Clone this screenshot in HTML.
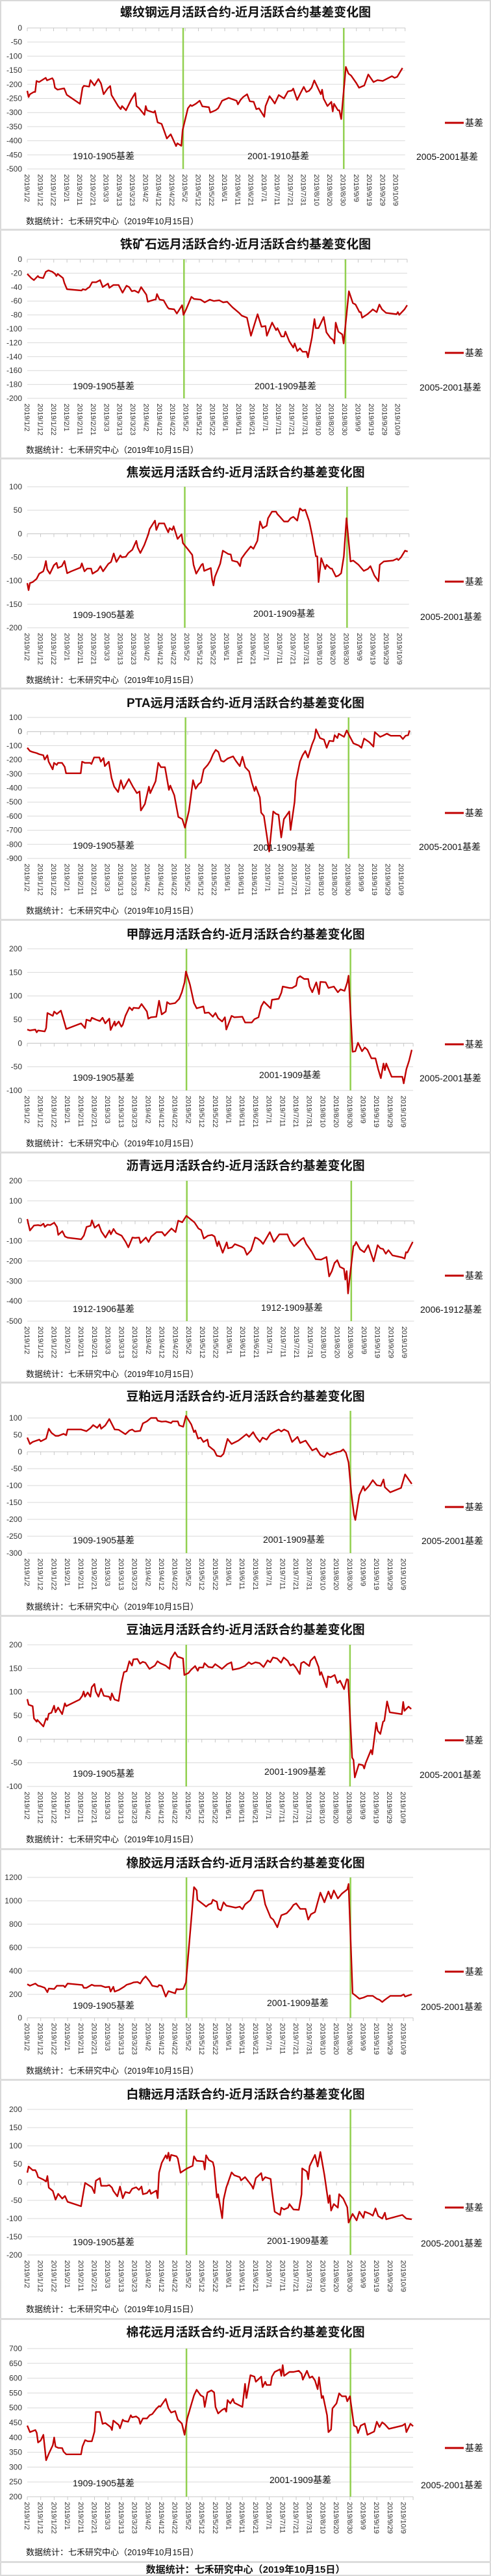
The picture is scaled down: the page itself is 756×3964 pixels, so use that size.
<!DOCTYPE html>
<html><head><meta charset="utf-8"><style>
html,body{margin:0;padding:0;background:#fff;}
svg{display:block;}
text{font-family:"Liberation Sans","Noto Sans CJK SC",sans-serif;}
</style></head>
<body>
<svg id="root" xmlns="http://www.w3.org/2000/svg" width="756" height="3964" viewBox="0 0 756 3964"></svg>
<script>
// ---- data (day offset from 2019/1/2, basis value) ----
const dateLabels = ["2019/1/2","2019/1/12","2019/1/22","2019/2/1","2019/2/11","2019/2/21","2019/3/3","2019/3/13","2019/3/23","2019/4/2","2019/4/12","2019/4/22","2019/5/2","2019/5/12","2019/5/22","2019/6/1","2019/6/11","2019/6/21","2019/7/1","2019/7/11","2019/7/21","2019/7/31","2019/8/10","2019/8/20","2019/8/30","2019/9/9","2019/9/19","2019/9/29","2019/10/9"];
const rollDays = [118.4, 240.4];

const rebarDays = [0,1,2,5,6,7,9,14,15,19,20,21,23,27,28,30,40,42,43,47,48,51,54,56,58,61,63,64,68,69,71,72,75,79,82,83,85,89,90,91,96,97,99,102,104,106,109,113,114,117,118,122,124,125,128,131,133,138,139,143,145,148,153,159,160,162,164,167,169,172,174,176,180,181,184,186,188,191,195,198,201,202,205,208,210,212,214,216,218,223,224,225,228,231,232,233,236,237,238.5,242,244,246,250,252,256,259,263,266,270,277,279,281,285];
const rebarVals = [-223,-245,-235,-227,-227,-188,-192,-177,-186,-178,-186,-212,-219,-215,-214,-237,-269,-212,-205,-208,-185,-204,-181,-197,-235,-215,-206,-238,-269,-277,-288,-277,-292,-254,-231,-277,-285,-308,-277,-292,-300,-294,-335,-340,-365,-392,-377,-419,-409,-418,-362,-285,-273,-277,-269,-258,-278,-281,-300,-292,-285,-258,-248,-258,-271,-255,-245,-235,-260,-262,-288,-285,-315,-277,-242,-254,-268,-238,-250,-225,-222,-215,-255,-227,-209,-227,-223,-212,-186,-235,-219,-250,-277,-262,-296,-269,-292,-292,-323,-138,-162,-169,-196,-212,-204,-165,-192,-185,-188,-171,-177,-173,-142];

const ironDays = [0,3,5,8,9,12,14,16,19,21,22,23,27,28,30,41,42,44,46,47,49,52,55,57,61,62,65,69,72,75,77,79,81,84,86,90,91,96,97,98,100,103,106,107,111,113,117,118,120,124,126,131,134,138,141,145,148,151,155,160,162,166,169,174,177,180,181,185,188,189,192,194,195,198,201,202,204,206,208,211,212,215,217,218,220,224,226,229,231,232,233,235,238,239,243,246,248,251,252,253,257,260,261,264,266,268,271,279,280,281,285,287];
const ironVals = [-21,-27,-30,-24,-26,-27,-18,-16,-18,-21,-24,-21,-27,-34,-43,-45,-43,-44,-41,-40,-33,-33,-30,-40,-35,-41,-37,-37,-48,-38,-40,-46,-45,-48,-40,-51,-61,-58,-58,-50,-58,-59,-69,-71,-72,-78,-66,-80,-72,-54,-57,-58,-62,-58,-60,-59,-62,-61,-69,-77,-81,-84,-110,-79,-97,-96,-110,-91,-102,-99,-111,-111,-104,-118,-127,-121,-132,-128,-133,-133,-141,-113,-86,-99,-99,-83,-105,-113,-116,-121,-91,-104,-108,-121,-46,-63,-65,-76,-76,-84,-79,-74,-72,-76,-65,-72,-77,-79,-76,-80,-72,-66];

const cokeDays = [0,1,2,4,7,9,12,13,14,15,17,20,22,23,26,28,30,33,40,41,43,45,48,49,53,55,57,61,63,65,67,70,71,74,76,79,82,83,85,88,91,92,96,97,99,103,104,106,107,109,110,113,116,117,121,124,125,127,131,132,133,138,139,140,141,145,147,151,153,154,158,160,161,164,168,170,173,175,177,180,181,184,187,188,190,193,196,198,200,203,205,207,209,212,214,217,218,219,221,224,225,228,229,232,234,236,238,240,243,245,249,253,256,258,261,264,265,268,275,278,279,281,284,286];
const cokeVals = [-105,-120,-105,-103,-96,-85,-80,-71,-58,-76,-85,-67,-62,-73,-69,-58,-84,-80,-72,-63,-80,-74,-74,-85,-78,-69,-80,-64,-60,-42,-60,-46,-50,-49,-41,-34,-15,-29,-41,-24,-1,10,28,8,22,22,15,3,12,8,16,-11,-1,-20,-34,-45,-66,-85,-66,-64,-79,-73,-98,-110,-92,-64,-36,-43,-44,-57,-60,-69,-53,-41,-27,-32,-15,26,12,17,33,47,47,42,36,26,26,33,36,28,54,49,51,26,-1,-48,-48,-103,-52,-75,-66,-74,-74,-91,-89,-84,-48,33,-59,-57,-66,-79,-75,-69,-89,-101,-66,-59,-57,-53,-56,-50,-36,-38];

const ptaDays = [0,2,4,7,9,12,13,15,16,19,20,22,23,26,28,29,40,41,43,47,48,50,54,55,57,58,61,63,65,68,70,72,76,79,82,84,85,88,91,92,96,98,100,103,106,107,110,113,116,118,121,124,126,128,130,132,135,137,139,141,143,145,147,150,154,156,159,161,163,166,168,170,171,174,175,177,181,184,186,188,190,192,196,197,200,201,204,206,208,210,213,215,216,219,222,224,226,229,230,232,233,237,239,241,244,248,250,252,256,259,260,264,266,269,272,279,281,283,285,286];
const ptaVals = [-115,-138,-145,-153,-161,-168,-199,-168,-214,-268,-222,-237,-222,-222,-250,-296,-296,-214,-222,-222,-230,-184,-184,-214,-188,-245,-214,-329,-391,-429,-345,-406,-337,-391,-437,-425,-560,-514,-391,-437,-352,-222,-253,-253,-414,-383,-452,-606,-621,-682,-560,-345,-406,-375,-360,-268,-237,-207,-161,-130,-145,-207,-214,-191,-176,-207,-245,-179,-253,-283,-360,-421,-391,-468,-575,-598,-851,-567,-583,-590,-751,-621,-567,-698,-498,-352,-214,-168,-138,-184,-92,-46,16,-46,-57,-115,-66,-69,-26,-46,-15,-38,8,-30,-84,-99,-115,-50,-76,-107,-4,-38,-30,-15,-30,-30,-53,-30,-26,8];

const methDays = [0,2,6,7,8,13,14,15,19,20,22,25,27,29,40,43,44,47,48,51,54,56,58,61,62,65,65.5,68,70,71,73,76,78,79,83,85,89,90,92,96,98,100,103,104,106,110,113,115,117,118,121,124,126,131,132,135,138,140,142,145,147,148,152,154,160,162,167,169,172,174,176,181,182,187,189,190,195,197,200,201,203,206,209,210,212,215,217,218,222,224,228,231,233,236,238,239,242,244,246,249,251,253,256,259,261,263,265,266,267,271,279,280,282,284,286];
const methVals = [29,27,29,23,27,25,32,64,58,67,62,69,50,30,42,32,50,47,54,50,47,54,42,52,28,46,37,46,35,39,58,76,70,75,74,83,67,52,55,56,90,61,67,87,83,85,94,108,129,152,124,85,74,78,64,65,56,64,53,46,55,29,58,55,56,44,44,51,55,78,88,74,92,94,107,120,117,117,122,138,142,136,136,120,108,129,104,130,129,117,120,108,114,111,129,143,-18,-17,1,-17,-9,-14,-32,-32,-55,-74,-43,-57,-43,-71,-71,-85,-55,-37,-14];

const asphDays = [0,2,5,8,10,12,13,15,17,20,22,23,26,28,30,40,42,44,47,48,50,53,55,58,61,62,64,66,70,73,75,78,80,83,84,88,90,92,96,100,102,107,110,112,115,118,121,124,127,129,131,134,137,139,141,142,145,148,149,152,154,159,161,163,166,169,171,173,175,180,183,187,193,195,198,203,205,207,211,214,218,222,224,226,228,230,232,235,236,237,238,239,242,243,244,247,250,253,257,260,262,264,266,268,271,278,280,281,282,286];
const asphVals = [9,-48,-23,-21,-24,-14,-30,-19,-21,-9,-30,-70,-51,-78,-84,-92,-73,-30,-24,3,-34,-18,-53,-83,-48,-67,-40,-61,-74,-105,-132,-83,-85,-83,-110,-83,-105,-78,-56,-56,-74,-38,-56,1,-7,25,9,-7,-38,-46,-88,-74,-70,-78,-126,-102,-159,-107,-137,-132,-116,-129,-137,-169,-147,-83,-88,-99,-115,-56,-105,-67,-67,-99,-126,-94,-85,-115,-153,-191,-193,-180,-277,-250,-210,-196,-229,-239,-293,-250,-362,-299,-126,-121,-105,-142,-156,-121,-202,-121,-137,-140,-164,-146,-172,-182,-188,-156,-158,-105];

const mealDays = [0,2,4,9,10,14,16,18,21,23,27,29,30,40,44,47,49,52,54,55,58,61,65,68,73,76,78,80,84,86,89,92,96,97,100,103,107,108,112,113,116,118,122,124,125,127,129,131,134,135,139,141,144,146,149,152,157,159,163,165,168,170,173,175,178,181,187,189,191,194,197,201,203,207,212,215,218,221,223,225,230,233,235,237,239,241,243,244,247,250,251,254,257,260,263,265,266,270,278,281,286];
const mealVals = [42,23,29,36,31,39,68,56,47,47,53,49,66,66,61,70,79,71,81,68,78,97,66,65,52,63,66,60,62,84,90,100,100,92,89,90,85,90,90,78,74,106,81,58,63,39,42,29,36,17,4,-12,-14,-6,38,23,33,39,52,44,58,44,29,42,36,53,66,60,66,60,29,44,26,33,4,10,-9,-16,-3,-9,-1,1,7,-3,-32,-122,-186,-202,-128,-102,-115,-102,-84,-99,-101,-82,-105,-120,-107,-67,-95];

const oilDays = [0,1,4,5,7,7.5,12,14,15,16,18,20,21,23,26,28,29,39,41,42,43,45,47,48,50,51,53,55,57,61,62,63,65,68,70,72,74,76,78,79,82,84,86,88,91,95,97,99,103,106,107,110,112,116,117,120,122,125,127,128,131,132,135,138,140,145,149,152,153,158,162,165,167,170,173,176,179,181,183,186,189,191,194,196,198,200,203,204,206,210,211,214,217,218,219,223,224,226,229,231,233,236,238,239,242,243,244,247,250,251,252,256,257,260,261,263,265,266,268,270,279,280,281,284,286];
const oilVals = [85,73,70,44,37,41,27,44,41,54,56,71,57,67,53,76,70,84,92,101,90,99,90,110,117,101,90,107,92,90,83,97,84,81,117,142,144,165,156,169,170,160,164,162,149,156,165,161,156,149,170,184,175,171,136,140,147,155,145,152,152,161,153,152,159,149,159,163,147,150,155,163,159,163,161,153,167,163,173,171,162,173,166,156,159,152,138,161,164,155,166,175,153,136,142,110,133,131,136,119,124,106,127,126,-39,-44,-81,-53,-55,-62,-51,-23,-32,35,18,11,37,39,80,57,53,79,60,69,64];

const rubberDays = [0,2,6,8,10,13,15,16,20,22,27,28,30,41,42,44,48,50,55,58,61,62,64,65,68,72,74,77,79,82,84,86,88,91,93,97,98,100,103,105,110,111,113,116,118,124,126,126.5,131,133,135,137,138,141,142,144,146,148,150,155,158,160,162,166,169,171,175,177,181,183,186,189,193,196,198,200,203,207,209,211,214,216,218,221,224,226,228,231,234,238,239,242,244,247,250,253,257,260,262,264,266,270,278,280,281,286];
const rubberVals = [287,274,293,274,269,256,219,250,246,274,274,261,293,280,256,256,283,274,274,261,265,224,265,224,237,265,283,293,302,306,293,330,354,311,274,265,280,274,181,228,209,246,243,246,302,1117,1089,1009,969,950,969,978,1009,991,931,917,987,959,954,941,950,928,969,1006,1080,1089,1089,969,857,839,774,876,894,931,965,978,931,931,839,885,904,987,1070,987,1080,1020,1089,1020,1061,1098,1144,209,191,163,172,187,187,163,154,135,154,187,187,200,181,200];

const sugarDays = [0,1,4,6,7,8,12,14,15,16,19,21,23,26,28,30,40,43,48,50,51,54,55,59,61,63,64,67,69,71,73,76,78,81,83,85,86,89,91,92,96,97,98,100,103,104,105,106,107,111,112,114,116,119,123,124,126,131,132,133,135,138,139,141,142,145,146,148,152,154,158,159,162,167,168,170,174,175,177,181,182,184,188,189,191,194,195,198,202,204,204.5,208,209,210,214,216,218,221,224,225,226,228,231,232,235,238,239,242,245,247,250,251,255,257,259,261,264,266,267,270,279,282,286];
const sugarVals = [26,43,33,33,26,14,7,2,17,-15,-24,-48,-32,-45,-38,-54,-66,-2,-14,-30,4,11,-10,-10,-8,-15,-24,-39,-12,-44,-27,-30,-18,-14,-21,-12,-33,-30,-21,-32,-23,-44,26,53,74,65,81,59,75,71,65,26,31,38,45,71,59,57,35,74,61,55,41,-42,-33,-99,-48,-15,27,19,14,5,14,-10,-18,11,25,5,14,9,-24,-81,-90,-70,-75,-70,-60,-75,-76,-33,38,29,8,44,75,43,83,20,-57,-36,-78,-60,-70,-33,-45,-69,-111,-87,-105,-81,-98,-81,-87,-92,-72,-93,-100,-84,-102,-99,-90,-100,-102];

const cottonDays = [0,2,6,7,8,10,12,14,16,19,20,21,23,26,27,29,40,41,43,45,48,50,51,54,56,58,62,63,64,68,69,71,72,75,77,78,81,83,84,86,89,91,93,96,98,99,103,105,107,110,112,115,117,119,122,124,126,129,131,132,134,137,139,140,142,145,147,148,149,151,153,154,160,162,163,166,169,170,174,175,177,178,181,182,184,188,189,190,191,195,198,202,204,205,208,210,212,214,216,217,219,220,223,224,226,227,230,232,234,237,238,240,243,245,246,248,251,253,258,260,262,264,266,269,279,281,282,285,287];
const cottonVals = [440,418,425,416,383,390,409,323,345,374,400,369,365,364,352,343,343,369,391,387,387,420,486,486,446,449,435,425,457,442,431,460,456,453,475,468,471,464,446,464,464,475,479,497,506,504,530,498,484,489,460,447,409,464,511,542,561,542,537,503,552,559,552,503,481,493,498,487,526,515,530,517,503,581,533,610,605,588,605,570,588,577,577,605,621,630,608,644,608,621,621,625,615,595,625,601,606,592,563,603,533,540,475,418,427,498,515,549,539,539,522,539,440,435,415,440,447,409,420,453,435,451,444,429,440,446,418,446,438];

// ---- layout (pixel geometry, not data) ----
const panels = [
 {title:"螺纹钢远月活跃合约-近月活跃合约基差变化图",days:rebarDays,vals:rebarVals,min:-500,max:0,step:50,top:43,bot:260,k:2.027,ty:18,fy:340,sep:353,ly:189,gt:43,ann:[["1910-1905基差",112,240],["2001-1910基差",381,240],["2005-2001基差",641,241]]},
 {title:"铁矿石远月活跃合约-近月活跃合约基差变化图",days:ironDays,vals:ironVals,min:-200,max:0,step:20,top:399,bot:613,k:2.038,ty:375,fy:692,sep:705,ly:543,gt:399,ann:[["1909-1905基差",112,594],["2001-1909基差",392,594],["2005-2001基差",646,596]]},
 {title:"焦炭远月活跃合约-近月活跃合约基差变化图",days:cokeDays,vals:cokeVals,min:-200,max:100,step:50,top:749,bot:966,k:2.048,ty:726,fy:1046,sep:1059,ly:895,gt:749,ann:[["1909-1905基差",112,946],["2001-1909基差",390,944],["2005-2001基差",647,949]]},
 {title:"PTA远月活跃合约-近月活跃合约基差变化图",days:ptaDays,vals:ptaVals,min:-900,max:100,step:100,top:1104,bot:1321,k:2.058,ty:1081,fy:1401,sep:1415,ly:1251,gt:1104,ann:[["1909-1905基差",112,1301],["2001-1909基差",390,1304],["2005-2001基差",645,1303]]},
 {title:"甲醇远月活跃合约-近月活跃合约基差变化图",days:methDays,vals:methVals,min:-100,max:200,step:50,top:1460,bot:1678,k:2.07,ty:1437,fy:1759,sep:1773,ly:1607,gt:1460,ann:[["1909-1905基差",112,1658],["2001-1909基差",399,1654],["2005-2001基差",646,1659]]},
 {title:"沥青远月活跃合约-近月活跃合约基差变化图",days:asphDays,vals:asphVals,min:-500,max:200,step:100,top:1817,bot:2033,k:2.075,ty:1793,fy:2114,sep:2127,ly:1963,gt:1817,ann:[["1912-1906基差",112,2014],["1912-1909基差",402,2012],["2006-1912基差",647,2015]]},
 {title:"豆粕远月活跃合约-近月活跃合约基差变化图",days:mealDays,vals:mealVals,min:-300,max:100,step:50,top:2182,bot:2390,k:2.07,ty:2148,fy:2472,sep:2486,ly:2319,gt:2171,ann:[["1909-1905基差",112,2370],["2001-1909基差",405,2369],["2005-2001基差",649,2371]]},
 {title:"豆油远月活跃合约-近月活跃合约基差变化图",days:oilDays,vals:oilVals,min:-100,max:200,step:50,top:2531,bot:2749,k:2.067,ty:2507,fy:2830,sep:2845,ly:2678,gt:2531,ann:[["1909-1905基差",112,2729],["2001-1909基差",407,2726],["2005-2001基差",646,2731]]},
 {title:"橡胶远月活跃合约-近月活跃合约基差变化图",days:rubberDays,vals:rubberVals,min:0,max:1200,step:200,top:2889,bot:3105,k:2.07,ty:2866,fy:3186,sep:3200,ly:3034,gt:2889,ann:[["1909-1905基差",112,3086],["2001-1909基差",411,3082],["2005-2001基差",648,3088]]},
 {title:"白糖远月活跃合约-近月活跃合约基差变化图",days:sugarDays,vals:sugarVals,min:-200,max:200,step:50,top:3246,bot:3470,k:2.07,ty:3222,fy:3553,sep:3568,ly:3397,gt:3246,ann:[["1909-1905基差",112,3450],["2001-1909基差",411,3448],["2005-2001基差",648,3452]]},
 {title:"棉花远月活跃合约-近月活跃合约基差变化图",days:cottonDays,vals:cottonVals,min:200,max:700,step:50,top:3614,bot:3842,k:2.07,ty:3588,fy:3927,sep:3942,ly:3767,gt:3614,ann:[["1909-1905基差",112,3821],["2001-1909基差",415,3816],["2005-2001基差",648,3824]]}
];

const NS = "http://www.w3.org/2000/svg";
const root = document.getElementById("root");
function mk(tag, attrs, parent){
  const e = document.createElementNS(NS, tag);
  for (const k in attrs) e.setAttribute(k, attrs[k]);
  (parent||root).appendChild(e);
  return e;
}
const XL = 42;

// outer borders
const bl = mk("rect",{x:1,y:1,width:754,height:3962,fill:"none",stroke:"#d9d9d9","stroke-width":2});



panels.forEach((p, pi) => {
  const g = mk("g",{});
  
  
  const xs = d => XL + d * p.k;
  const ys = v => p.top + (p.max - v) / (p.max - p.min) * (p.bot - p.top);
  const xR = xs(287);

  const t = mk("text",{x:378,y:p.ty+7,"text-anchor":"middle","font-size":19,"font-weight":"bold",fill:"#111"},g);
  t.textContent = p.title;
  
  

  // grid + y labels
  for (let v = p.min; v <= p.max + 1e-9; v += p.step) {
    const y = ys(v);
    const gl = mk("line",{x1:XL,x2:xR,y1:y,y2:y,stroke:"#d9d9d9","stroke-width":1},g);
    
    
    const yl = mk("text",{x:34,y:y+4,"text-anchor":"end","font-size":12,fill:"#333"},g);
    yl.textContent = String(v);
    
    
  }
  // x axis line at 0 (or bottom)
  const ay = (p.min <= 0 && p.max >= 0) ? ys(0) : p.bot;
  const ax = mk("line",{x1:XL,x2:xR,y1:ay,y2:ay,stroke:"#c8c8c8","stroke-width":1},g);
  
  
  dateLabels.forEach((lab, i) => {
    const x = xs(i*10);
    const tk = mk("line",{x1:x,x2:x,y1:ay,y2:ay+5,stroke:"#c8c8c8","stroke-width":1},g);
    
    
    const tl = mk("text",{x:0,y:0,"font-size":11,fill:"#333",transform:"translate("+(x-4)+","+(p.bot+8)+") rotate(90)"},g);
    tl.textContent = lab;
    
    
  });
  const tk2 = mk("line",{x1:xR,x2:xR,y1:ay,y2:ay+5,stroke:"#c8c8c8","stroke-width":1},g);
  
  

  // roll lines
  rollDays.forEach(d => {
    const gl = mk("line",{x1:xs(d),x2:xs(d),y1:p.gt,y2:p.bot,stroke:"#92d050","stroke-width":2.5},g);
    
    
  });

  // series
  let dstr = "";
  p.days.forEach((d, i) => { dstr += (i ? "L" : "M") + xs(d).toFixed(1) + "," + ys(p.vals[i]).toFixed(1); });
  const path = mk("path",{d:dstr,fill:"none",stroke:"#c00000","stroke-width":2.4,"stroke-linejoin":"round"},g);
  
  

  // annotations
  p.ann.forEach(a => {
    const at = mk("text",{x:a[1],y:a[2]+5,"font-size":14,fill:"#111"},g);
    at.textContent = a[0];
    
    
  });

  // legend
  const lg = mk("g",{},g);
  
  
  mk("line",{x1:685,x2:714,y1:p.ly,y2:p.ly,stroke:"#c00000","stroke-width":3},lg);
  const lt = mk("text",{x:716,y:p.ly+5,"font-size":14,fill:"#111"},lg);
  lt.textContent = "基差";

  // footer
  const ft = mk("text",{x:40,y:p.fy+5,"font-size":13,fill:"#111"},g);
  ft.textContent = "数据统计：七禾研究中心（2019年10月15日）";
  
  

  const sp = mk("rect",{x:0,y:p.sep-1,width:756,height:3,fill:"#dcdcdc"},g);
  
  
});

const ff = mk("text",{x:378,y:3959,"text-anchor":"middle","font-size":15,"font-weight":"bold",fill:"#111"});
ff.textContent = "数据统计：七禾研究中心（2019年10月15日）";


</script>
</body></html>
